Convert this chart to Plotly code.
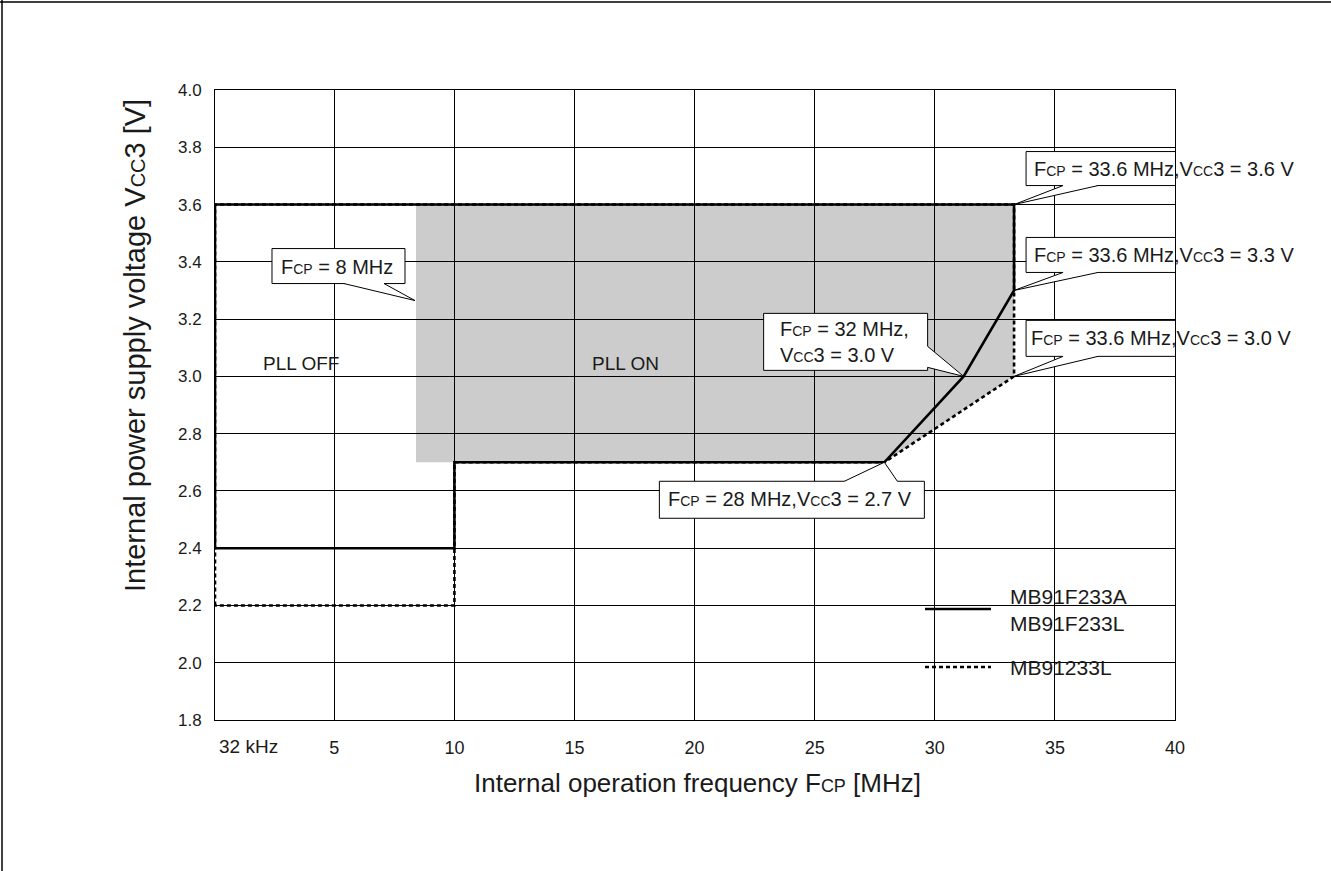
import plotly.graph_objects as go

# ---------------- data ----------------
freq_tick_vals = [0.032, 5, 10, 15, 20, 25, 30, 35, 40]
freq_tick_text = ["32 kHz", "5", "10", "15", "20", "25", "30", "35", "40"]
volt_tick_vals = [1.8, 2.0, 2.2, 2.4, 2.6, 2.8, 3.0, 3.2, 3.4, 3.6, 3.8, 4.0]
volt_tick_text = ["1.8", "2.0", "2.2", "2.4", "2.6", "2.8", "3.0", "3.2", "3.4", "3.6", "3.8", "4.0"]

# MB91F233A / MB91F233L operating boundary (solid)
solid_f = [0.032, 0.032, 33.3, 33.3, 31.2, 27.9, 10, 10, 0.032]
solid_v = [2.4, 3.6, 3.6, 3.3, 3.0, 2.7, 2.7, 2.4, 2.4]
# MB91233L operating boundary (dashed)
dash_f = [0.032, 0.032, 33.3, 33.3, 27.9, 10, 10, 0.032]
dash_v = [2.2, 3.6, 3.6, 3.0, 2.7, 2.7, 2.2, 2.2]
# PLL ON region (shaded)
pll_f = [8.4, 33.3, 33.3, 27.9, 8.4]
pll_v = [3.6, 3.6, 3.0, 2.7, 2.7]

series_names = ["MB91F233A<br>MB91F233L", "MB91233L"]

# ---------------- layout geometry ----------------
W, H = 1331, 871
ML, MR, MT, MB = 215, 156, 90, 151
PW, PH = W - ML - MR, H - MT - MB


def px(xp):
    return (xp - ML) / PW


def py(yp):
    return (H - MB - yp) / PH


FONT = "Liberation Sans, Arial, Helvetica, sans-serif"
TXT = "#1a1a1a"

fig = go.Figure()

fig.add_trace(go.Scatter(x=solid_f, y=solid_v, mode="lines",
                         line=dict(color="black", width=2.6),
                         name=series_names[0], showlegend=False,
                         hoverinfo="skip"))
fig.add_trace(go.Scatter(x=dash_f, y=dash_v, mode="lines",
                         line=dict(color="black", width=2.6, dash="4px,3px"),
                         name=series_names[1], showlegend=False,
                         hoverinfo="skip"))

shapes = []
# shaded PLL ON region, below the grid lines
path = "M " + " L ".join(f"{f},{v}" for f, v in zip(pll_f, pll_v)) + " Z"
shapes.append(dict(type="path", path=path, xref="x", yref="y", layer="below",
                   fillcolor="#cccccc", line=dict(width=0)))

# legend blank box
shapes.append(dict(type="rect", xref="paper", yref="paper", layer="between",
                   x0=px(897), x1=px(1154), y0=py(695), y1=py(567),
                   fillcolor="white", line=dict(width=0)))
shapes.append(dict(type="line", xref="paper", yref="paper",
                   x0=px(925), x1=px(991), y0=py(609), y1=py(609),
                   line=dict(color="black", width=2.6)))
shapes.append(dict(type="line", xref="paper", yref="paper",
                   x0=px(925), x1=px(991), y0=py(667), y1=py(667),
                   line=dict(color="black", width=2.6, dash="4px,3px")))

# page frame (top and left)
shapes.append(dict(type="line", xref="paper", yref="paper",
                   x0=px(0), x1=px(W), y0=py(2), y1=py(2),
                   line=dict(color="black", width=1.5)))
shapes.append(dict(type="line", xref="paper", yref="paper",
                   x0=px(2), x1=px(2), y0=py(0), y1=py(H),
                   line=dict(color="black", width=1.5)))

annotations = []


def callout(ax, ay, box, base, tip, text, tx, ty):
    """box=(x0,x1,y0,y1) in px relative to anchor (y up);
    base=((x,y),(x,y)) wedge base points; tip=(x,y)."""
    x0, x1, y0, y1 = box
    common = dict(xref="x", yref="y", xsizemode="pixel", ysizemode="pixel",
                  xanchor=ax, yanchor=ay, layer="above")
    shapes.append(dict(type="rect", x0=x0, x1=x1, y0=y0, y1=y1,
                       fillcolor="white", line=dict(color="black", width=1),
                       **common))
    (bx1, by1), (bx2, by2) = base
    if by1 == by2:
        d = -2 if by1 == y1 else 2
        inner = [(bx2, by2 + d), (bx1, by1 + d)]
    else:
        inner = [(bx2 - 2, by2), (bx1 - 2, by1)]
    pts = [(bx1, by1), tip, (bx2, by2)] + inner
    fp = "M " + " L ".join(f"{a},{b}" for a, b in pts) + " Z"
    shapes.append(dict(type="path", path=fp, fillcolor="white",
                       line=dict(width=0), **common))
    op = f"M {bx1},{by1} L {tip[0]},{tip[1]} L {bx2},{by2}"
    shapes.append(dict(type="path", path=op, fillcolor="rgba(0,0,0,0)",
                       line=dict(color="black", width=1), **common))
    annotations.append(dict(x=ax, y=ay, xref="x", yref="y", text=text,
                            showarrow=False, xanchor="left", yanchor="middle",
                            xshift=tx, yshift=ty, align="left",
                            font=dict(family=FONT, size=20, color=TXT)))


def sm(s, size=14):
    return f"<span style='font-size:{size}px'>{s}</span>"


FCP = "F" + sm("CP")
VCC = "V" + sm("CC")

# 8 MHz
callout(pll_f[0], pll_v[0], (-144, -11, -79, -44),
        ((-72, -79), (-32, -79)), (-1, -96), f"{FCP} = 8 MHz", -137, -62)
# 33.6 MHz, 3.6 V
callout(solid_f[2], solid_v[2], (12, 294, 19, 53),
        ((49, 19), (84, 19)), (0, 0), f"{FCP} = 33.6 MHz,{VCC}3 = 3.6 V", 18, 36)
# 33.6 MHz, 3.3 V
callout(solid_f[3], solid_v[3], (12, 299, 18, 53),
        ((49, 18), (84, 18)), (0, 0), f"{FCP} = 33.6 MHz,{VCC}3 = 3.3 V", 18, 35)
# 33.6 MHz, 3.0 V
callout(dash_f[3], dash_v[3], (12, 299, 20, 56),
        ((49, 20), (84, 20)), (0, 0), f"{FCP} = 33.6 MHz,{VCC}3 = 3.0 V", 15, 38)
# 32 MHz, 3.0 V
callout(solid_f[4], solid_v[4], (-200, -36, 6, 63),
        ((-36, 30), (-36, 9)), (0, 0), f"{FCP} = 32 MHz,<br>{VCC}3 = 3.0 V", -186, 34)
# 28 MHz, 2.7 V
callout(solid_f[5], solid_v[5], (-225, 40, -56, -19),
        ((-40, -19), (13, -19)), (0, 0), f"{FCP} = 28 MHz,{VCC}3 = 2.7 V", -218, -37)

# region labels
annotations.append(dict(x=px(301), y=py(363), xref="paper", yref="paper", text="PLL OFF",
                        showarrow=False, xanchor="center", yanchor="middle",
                        font=dict(family=FONT, size=19, color=TXT)))
annotations.append(dict(x=px(625), y=py(363), xref="paper", yref="paper", text="PLL ON",
                        showarrow=False, xanchor="center", yanchor="middle",
                        font=dict(family=FONT, size=19, color=TXT)))

# legend text
annotations.append(dict(x=px(1008), y=py(610), xref="paper", yref="paper",
                        text=series_names[0], showarrow=False, xanchor="left",
                        yanchor="middle", align="left",
                        font=dict(family=FONT, size=21, color=TXT)))
annotations.append(dict(x=px(1008), y=py(667), xref="paper", yref="paper",
                        text=series_names[1], showarrow=False, xanchor="left",
                        yanchor="middle", align="left",
                        font=dict(family=FONT, size=21, color=TXT)))

# first x tick label, left-aligned at the axis origin
annotations.append(dict(x=freq_tick_vals[0], y=0, xref="x", yref="paper",
                        text=freq_tick_text[0], showarrow=False, xanchor="left",
                        yanchor="middle", xshift=2, yshift=-26,
                        font=dict(family=FONT, size=19, color=TXT)))

# axis titles
annotations.append(dict(x=px(697), y=py(783), xref="paper", yref="paper",
                        text="Internal operation frequency F" + sm("CP", 18) + " [MHz]",
                        showarrow=False, xanchor="center", yanchor="middle",
                        font=dict(family=FONT, size=26, color=TXT)))
annotations.append(dict(x=px(135), y=py(346), xref="paper", yref="paper",
                        text="Internal power supply voltage V" + sm("CC", 20) + "3 [V]",
                        showarrow=False, xanchor="center", yanchor="middle",
                        textangle=-90,
                        font=dict(family=FONT, size=29, color=TXT)))

axis_common = dict(showline=True, mirror=True, linecolor="black", linewidth=1,
                   showgrid=True, gridcolor="black", gridwidth=1,
                   zeroline=False, ticks="", fixedrange=True)

x_ticktext = [""] + freq_tick_text[1:]

fig.update_layout(
    width=W, height=H,
    margin=dict(l=ML, r=MR, t=MT, b=MB, autoexpand=False),
    paper_bgcolor="white", plot_bgcolor="white",
    showlegend=False,
    xaxis=dict(range=[0.032, 40], tickvals=freq_tick_vals, ticktext=x_ticktext,
               ticklabelstandoff=11,
               tickfont=dict(family=FONT, size=18, color=TXT), **axis_common),
    yaxis=dict(range=[1.8, 4.0], tickvals=volt_tick_vals, ticktext=volt_tick_text,
               ticklabelstandoff=9,
               tickfont=dict(family=FONT, size=17, color=TXT), **axis_common),
    shapes=shapes,
    annotations=annotations,
)

fig.write_html("out.html", config={"displayModeBar": False},
               post_script="document.body.style.margin='0px';document.body.style.overflow='hidden';")
